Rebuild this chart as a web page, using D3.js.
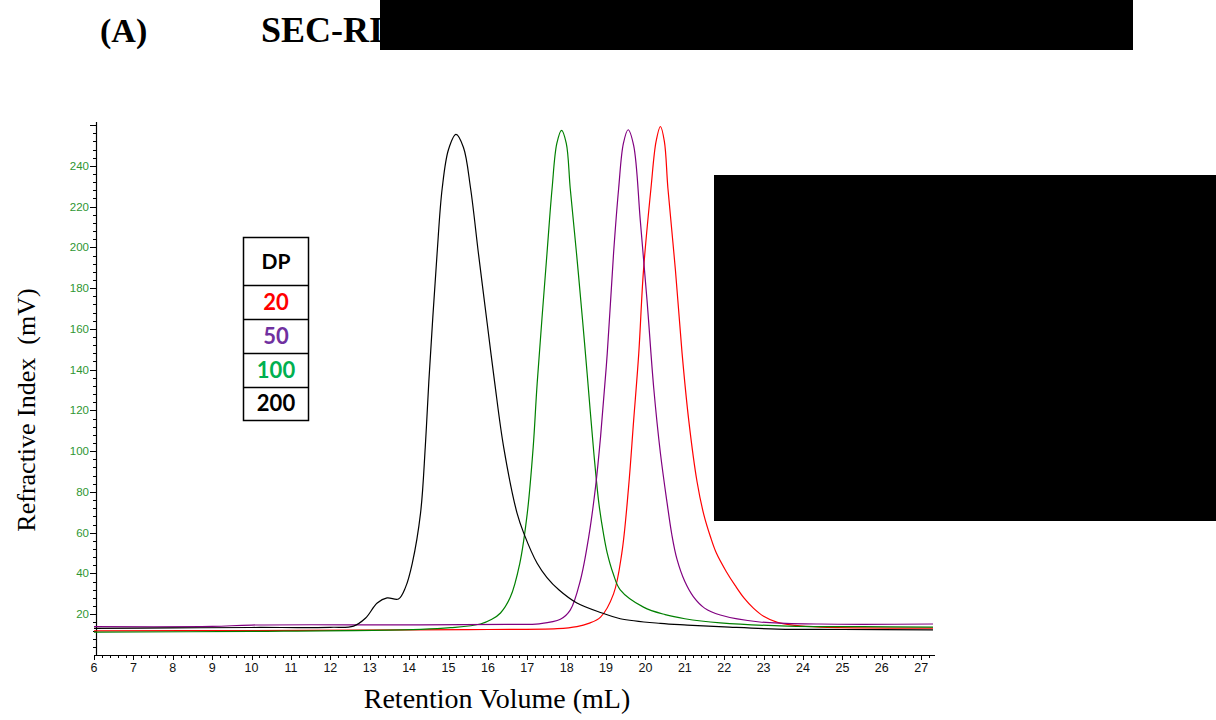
<!DOCTYPE html>
<html>
<head>
<meta charset="utf-8">
<script src="https://cdn.jsdelivr.net/npm/d3@7"></script>
<style>
  body { margin: 0; background: #fff; }
  svg { display: block; }
</style>
</head>
<body>
<svg id="chart" width="1216" height="720"></svg>
<script>
// Chromatogram traces (retention volume mL, RI mV)
var dp200X = [6, 8, 10, 12, 12.59, 12.89, 13.19, 13.44, 13.73, 13.91, 14.08, 14.29, 14.41, 14.50, 14.71, 14.84, 15.0, 15.19, 15.38, 15.56, 15.76, 15.98, 16.17, 16.40, 16.74, 16.91, 17.25, 17.5, 17.8, 18.26, 18.9, 19.36, 20.38, 21.06, 22.0, 23.35, 25, 27.3];
var dp200Y = [13.1, 13.3, 13.5, 13.6, 14.2, 18, 25.5, 28, 27.5, 33.3, 45, 69.6, 102, 134, 197, 229, 248, 255.4, 249, 229, 197, 163, 134, 102, 69.6, 59.8, 45, 38, 32, 25.5, 20.6, 17.8, 15.5, 14.7, 13.8, 12.7, 12.5, 12.3];

var dp100X = [6, 10, 14.3, 15.05, 15.81, 16.1, 16.32, 16.57, 16.81, 17.0, 17.15, 17.25, 17.50, 17.63, 17.75, 17.87, 17.99, 18.09, 18.25, 18.40, 18.52, 18.69, 18.82, 18.93, 19.03, 19.18, 19.36, 19.95, 20.5, 21.0, 21.9, 23.6, 25.5, 27.3];
var dp100Y = [11.2, 11.6, 12.6, 13.4, 15.2, 17.5, 20.6, 28.4, 45, 69.6, 102, 133, 197, 229, 251, 257.4, 251, 229, 197, 165, 138, 99, 74, 60, 50, 40, 32, 23.5, 19.8, 17.8, 15.8, 14.2, 13.9, 13.7];

var dp50X = [6, 9, 10, 14, 16.5, 17.3, 17.84, 18.09, 18.35, 18.56, 18.73, 18.86, 19.03, 19.19, 19.32, 19.44, 19.56, 19.70, 19.87, 20.04, 20.21, 20.38, 20.55, 20.67, 20.80, 21.0, 21.22, 21.5, 21.9, 22.9, 24.4, 27.3];
var dp50Y = [13.9, 14.0, 14.7, 14.8, 15.0, 15.3, 17.5, 22, 36.8, 58, 82, 107, 148, 197, 229, 251, 257.7, 250, 213, 174, 131, 99, 74.5, 59, 47, 36, 28.5, 23, 19.6, 16.2, 15.2, 15.2];

var dp20X = [6, 10, 14, 16, 17.76, 18.26, 18.56, 18.86, 19.19, 19.40, 19.57, 19.70, 19.83, 19.95, 20.14, 20.27, 20.38, 20.48, 20.57, 20.76, 20.93, 21.10, 21.31, 21.48, 21.65, 21.8, 22.05, 22.28, 22.5, 22.74, 23.0, 23.35, 23.8, 24.44, 27.3];
var dp20Y = [11.8, 12.0, 12.3, 12.5, 12.9, 13.9, 15.5, 18.6, 30, 50, 82, 115, 148, 188.7, 229, 252, 259.3, 252, 229, 189, 148, 115, 85, 69, 58, 50, 41, 34, 28, 23, 19, 16, 14.5, 13.7, 13.2];

var legendLabels = ["20", "50", "100", "200"];
var legendColors = ["#ff0000", "#7030a0", "#00b050", "#000000"];
var traceColors = ["#ff0000", "#800080", "#008000", "#000000"];
var xTicks = d3.range(6, 28);
var yTicks = d3.range(20, 260, 20);

var svg = d3.select("#chart");

var sx = d3.scaleLinear().domain([6, 27.3]).range([94, 933]);
var sy = d3.scaleLinear().domain([0, 261.5]).range([655, 122]);

// x axis: major ticks at each mL, minor every 0.2
svg.append("line").attr("x1", 94).attr("x2", 935).attr("y1", 655.5).attr("y2", 655.5).attr("stroke", "#000").attr("stroke-width", 1.2);
svg.append("g").selectAll("line").data(d3.range(6, 27.31, 0.2)).enter().append("line")
   .attr("x1", function(d) { return Math.round(sx(d)) + 0.5; }).attr("x2", function(d) { return Math.round(sx(d)) + 0.5; })
   .attr("y1", 655).attr("y2", function(d) { return Math.abs(d - Math.round(d)) < 0.01 ? 660 : 658; })
   .attr("stroke", "#000").attr("stroke-width", 1);
svg.append("g").selectAll("text").data(xTicks).enter().append("text")
   .attr("x", function(d) { return sx(d); }).attr("y", 672)
   .attr("text-anchor", "middle").attr("font-family", "Liberation Sans, Arial, sans-serif").attr("font-size", 12.5)
   .attr("fill", "#111").text(function(d) { return d; });

// y axis: major every 20 mV, minor every 4
svg.append("line").attr("x1", 96.5).attr("x2", 96.5).attr("y1", 122).attr("y2", 656).attr("stroke", "#000").attr("stroke-width", 1.2);
svg.append("g").selectAll("line").data(d3.range(4, 261, 4)).enter().append("line")
   .attr("y1", function(d) { return Math.round(sy(d)) + 0.5; }).attr("y2", function(d) { return Math.round(sy(d)) + 0.5; })
   .attr("x1", function(d) { return d % 20 === 0 ? 90 : 93; }).attr("x2", 96.5)
   .attr("stroke", "#000").attr("stroke-width", 1);
svg.append("g").selectAll("text").data(yTicks).enter().append("text")
   .attr("x", 89).attr("y", function(d) { return sy(d); }).attr("dy", "0.35em")
   .attr("text-anchor", "end").attr("font-family", "Liberation Sans, Arial, sans-serif").attr("font-size", 11.5)
   .attr("fill", "#2e9632").text(function(d) { return d; });

// traces
var line = d3.line().x(function(d) { return sx(d[0]); }).y(function(d) { return sy(d[1]); }).curve(d3.curveCatmullRom.alpha(0.5));
var traces = [d3.zip(dp20X, dp20Y), d3.zip(dp100X, dp100Y), d3.zip(dp50X, dp50Y), d3.zip(dp200X, dp200Y)];
var order = [0, 2, 1, 3];
svg.append("g").selectAll("path").data(traces).enter().append("path")
   .attr("d", line).attr("fill", "none").attr("stroke-width", 1.2)
   .attr("stroke", function(d, i) { return traceColors[order[i]]; });

// axis titles
svg.append("text").attr("x", 497).attr("y", 708).attr("text-anchor", "middle")
   .attr("font-family", "Liberation Serif, Times New Roman, serif").attr("font-size", 28).attr("fill", "#000")
   .text("Retention Volume (mL)");
svg.append("text").attr("transform", "translate(35,410) rotate(-90)").attr("text-anchor", "middle")
   .attr("font-family", "Liberation Serif, Times New Roman, serif").attr("font-size", 26).attr("fill", "#000")
   .attr("xml:space", "preserve").text("Refractive Index  (mV)");

// DP legend table
var legend = svg.append("g");
var rowY = [237, 285, 319, 353, 387, 420];
legend.append("rect").attr("x", 243.5).attr("y", 237.5).attr("width", 65).attr("height", 183)
   .attr("fill", "#fff").attr("stroke", "#000").attr("stroke-width", 1.5);
legend.selectAll("line").data(rowY.slice(1, 5)).enter().append("line")
   .attr("x1", 243.5).attr("x2", 308.5).attr("y1", function(d) { return d + 0.5; }).attr("y2", function(d) { return d + 0.5; })
   .attr("stroke", "#000").attr("stroke-width", 1.5);
legend.append("text").attr("x", 276).attr("y", 262).attr("dy", "0.35em").attr("text-anchor", "middle")
   .attr("font-family", "Lato, Open Sans, sans-serif").attr("font-weight", "bold").attr("font-size", 21).text("DP");
legend.selectAll("text.dp").data(legendLabels).enter().append("text").attr("class", "dp")
   .attr("x", 276).attr("y", function(d, i) { return (rowY[i + 1] + rowY[i + 2]) / 2; }).attr("dy", "0.36em")
   .attr("text-anchor", "middle").attr("font-family", "Lato, Open Sans, sans-serif").attr("font-weight", "bold").attr("font-size", 22)
   .attr("fill", function(d, i) { return legendColors[i]; }).text(function(d) { return d; });

// heading and the redaction boxes from the source figure
svg.append("text").attr("x", 100).attr("y", 42).attr("font-family", "Liberation Serif, Times New Roman, serif")
   .attr("font-weight", "bold").attr("font-size", 34).text("(A)");
svg.append("text").attr("x", 261).attr("y", 42).attr("font-family", "Liberation Serif, Times New Roman, serif")
   .attr("font-weight", "bold").attr("font-size", 36).text("SEC-RI");
svg.append("rect").attr("x", 380).attr("y", 0).attr("width", 753).attr("height", 50).attr("fill", "#000");
svg.append("rect").attr("x", 714).attr("y", 175).attr("width", 502).attr("height", 346).attr("fill", "#000");
</script>
</body>
</html>
